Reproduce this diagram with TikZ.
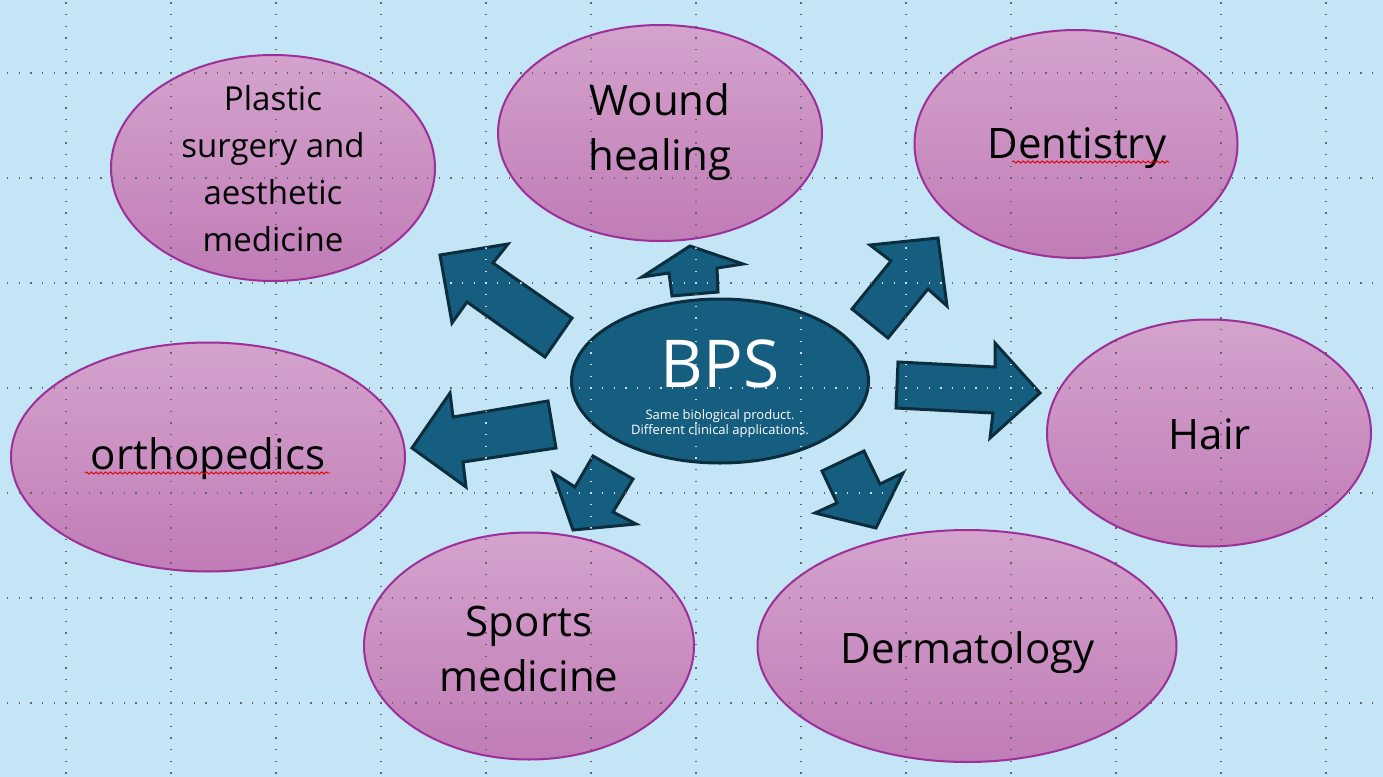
\documentclass[tikz,border=0pt]{standalone}
\usepackage{fontspec}
\setmainfont{Open Sans}
\usetikzlibrary{shapes.geometric,decorations.pathmorphing}
\definecolor{bg}{HTML}{C3E5F5}
\definecolor{pinktop}{HTML}{D4A3CD}
\definecolor{pinkbot}{HTML}{C07CB6}
\definecolor{pinkline}{HTML}{9C2F98}
\definecolor{hubfill}{HTML}{165E80}
\definecolor{hubline}{HTML}{0C2D3D}
\tikzset{
  appl/.style={ellipse, draw=pinkline, line width=1pt, top color=pinktop, bottom color=pinkbot, inner sep=0pt},
  hub/.style={ellipse, draw=hubline, line width=1.5pt, fill=hubfill, inner sep=0pt},
  blockarrow/.style={draw=hubline, line width=1.5pt, fill=hubfill, line join=miter},
  bigtxt/.style={font=\fontsize{21pt}{27.5pt}\selectfont, align=center, anchor=base, inner sep=0pt},
  midtxt/.style={font=\fontsize{16.5pt}{23.35pt}\selectfont, align=center, anchor=base, inner sep=0pt},
  griddot/.style={line width=0.55pt, dash pattern=on 0.55pt off 5.2833pt},
  spell/.style={draw=red!85!black, line width=0.45pt, decorate, decoration={snake, amplitude=0.55pt, segment length=2.4pt}}
}
\newcommand\mygridlines[1]{%
  \foreach \gx in {66,171,...,1326} {\draw[griddot,#1] (\gx,-9.2) -- (\gx,790);}
  \foreach \gy in {73,178,...,703} {\draw[griddot,#1] (-4.55,\gy) -- (1390,\gy);}
}
\begin{document}
\begin{tikzpicture}[x=0.5pt,y=-0.5pt]
\fill[bg] (0,0) rectangle (1383,777);
\useasboundingbox (0,0) rectangle (1383,777);

% application ellipses
\node[appl, minimum width=162pt, minimum height=113pt] (plastic) at (273,168) {};
\node[appl, minimum width=162pt, minimum height=108pt] (wound) at (660,133) {};
\node[appl, minimum width=161.5pt, minimum height=114pt] (dent) at (1076,144) {};
\node[appl, minimum width=162pt, minimum height=113.5pt] (hair) at (1209,433) {};
\node[appl, minimum width=209.5pt, minimum height=116pt] (derm) at (967,646) {};
\node[appl, minimum width=165pt, minimum height=113.5pt] (sports) at (529,646) {};
\node[appl, minimum width=197pt, minimum height=114.5pt] (ortho) at (208,457) {};

% block arrows
\draw[blockarrow] (440,255) -- (508,244) -- (493,263) -- (572,318) -- (545,357) -- (467,302) -- (452,323) -- cycle;
\draw[blockarrow] (690,246) -- (743,264) -- (717,268) -- (718,292) -- (672,296) -- (669,273) -- (642,277) -- cycle;
\draw[blockarrow] (938,238) -- (947,306) -- (928,289) -- (888,338) -- (852,309) -- (891,261) -- (870,245) -- cycle;
\draw[blockarrow] (1040,393) -- (995,343) -- (995,367) -- (898,362) -- (896,408) -- (993,413) -- (990,438) -- cycle;
\draw[blockarrow] (876,528) -- (903,473) -- (880,484) -- (864,451) -- (822,471) -- (837,503) -- (815,513) -- cycle;
\draw[blockarrow] (573,530) -- (636,524) -- (613,512) -- (633,479) -- (593,456) -- (575,487) -- (553,473) -- cycle;
\draw[blockarrow] (412,448) -- (450,393) -- (453,417) -- (548,401) -- (556,448) -- (463,462) -- (466,487) -- cycle;

% hub
\node[hub, minimum width=148.5pt, minimum height=82pt] (bps) at (720,381) {};

% grid
\mygridlines{black!60}
\begin{scope}
  \clip (720,381) ellipse (148.5 and 82)
    (440,255) -- (508,244) -- (493,263) -- (572,318) -- (545,357) -- (467,302) -- (452,323) -- cycle
    (690,246) -- (743,264) -- (717,268) -- (718,292) -- (672,296) -- (669,273) -- (642,277) -- cycle
    (938,238) -- (947,306) -- (928,289) -- (888,338) -- (852,309) -- (891,261) -- (870,245) -- cycle
    (1040,393) -- (995,343) -- (995,367) -- (898,362) -- (896,408) -- (993,413) -- (990,438) -- cycle
    (876,528) -- (903,473) -- (880,484) -- (864,451) -- (822,471) -- (837,503) -- (815,513) -- cycle
    (573,530) -- (636,524) -- (613,512) -- (633,479) -- (593,456) -- (575,487) -- (553,473) -- cycle
    (412,448) -- (450,393) -- (453,417) -- (548,401) -- (556,448) -- (463,462) -- (466,487) -- cycle;
  \mygridlines{white!80!hubfill}
\end{scope}

% labels
\node[midtxt] (tplastic) at (273,251) {Plastic\\surgery and\\aesthetic\\medicine};
\node[bigtxt] (twound) at (660,170) {Wound\\healing};
\node[bigtxt] (tdent) at (1077,158) {Dentistry};
\node[bigtxt] (thair) at (1210,449) {Hair};
\node[bigtxt] (tderm) at (968,663) {Dermatology};
\node[bigtxt] (tsports) at (529,691) {Sports\\medicine};
\node[bigtxt] (tortho) at (208,469) {orthopedics};
\node[font=\fontsize{33pt}{40pt}\selectfont, text=white, anchor=base, inner sep=0pt] (tbps) at (720,387) {BPS};
\node[font=\fontsize{6.5pt}{7.5pt}\selectfont, text=white, align=center, anchor=base, inner sep=0pt] (tsub) at (720,434) {Same biological product.\\Different clinical applications.};

% spell-check underlines
\draw[spell] (1012,162) -- (1169,162);
\draw[spell] (85,473) -- (330,473);
\end{tikzpicture}
\end{document}
